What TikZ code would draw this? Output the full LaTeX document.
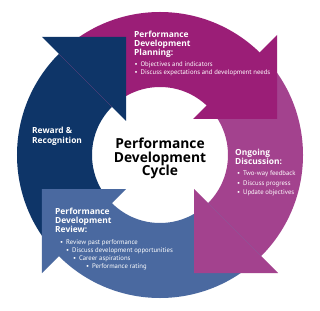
\documentclass[tikz,border=0pt]{standalone}
\usepackage{fontspec}
\setmainfont{PT Sans}
\newfontfamily\hfont{Open Sans}
\definecolor{navyc}{HTML}{0E3568}
\definecolor{magc}{HTML}{9B1E77}
\definecolor{pinkc}{HTML}{A3428E}
\definecolor{bluec}{HTML}{4A69A0}
\tikzset{
  hdr/.style={text=white, inner sep=0pt, anchor=base west, font=\hfont\bfseries\fontsize{8.4}{9}\selectfont},
  bul/.style={text=white, inner sep=0pt, anchor=base west, font=\fontsize{6.7}{7}\selectfont},
  ctr/.style={text=black, inner sep=0pt, anchor=base, font=\hfont\bfseries\fontsize{13.8}{14}\selectfont}
}
\newcommand{\ringpart}[3]{%
  \fill[#1] (#2:68pt) arc[start angle=#2,end angle=#3,radius=68pt] -- (#3:143pt) arc[start angle=#3,end angle=#2,radius=143pt] -- cycle;}
\begin{document}
\begin{tikzpicture}[x=1pt,y=1pt]
\useasboundingbox (-160,-155) rectangle (160,155);
\fill[white] (-160,-155) rectangle (160,155);
% bodies
\ringpart{navyc}{225}{135}
\ringpart{magc}{135}{45}
\ringpart{pinkc}{45}{-45}
\ringpart{bluec}{-45}{-135}
% heads
\fill[navyc] (-34,118) -- (-118,118) -- (-34,34) -- cycle;
\fill[magc] (117,36) -- (117,120) -- (33,36) -- cycle;
\fill[pinkc] (34,-118) -- (118,-118) -- (34,-34) -- cycle;
\fill[bluec] (-118,-34) -- (-118,-118) -- (-34,-34) -- cycle;
% center
\node[ctr] (c1) at (0,6) {Performance};
\node[ctr] (c2) at (0,-7) {Development};
\node[ctr] (c3) at (0,-20) {Cycle};
% planning
\node[hdr] (pl1) at (-26,117) {Performance};
\node[hdr] (pl2) at (-26,108) {Development};
\node[hdr] (pl3) at (-26,99) {Planning:};
\node[bul] (pb1) at (-25.5,88.5) {\textbullet\ \,Objectives and indicators};
\node[bul] (pb2) at (-25.5,80) {\textbullet\ \,Discuss expectations and development needs};
% ongoing
\node[hdr] (og1) at (75,-0.5) {Ongoing};
\node[hdr] (og2) at (75,-9.5) {Discussion:};
\node[bul] (ob1) at (77,-20.5) {\textbullet\ \,Two-way feedback};
\node[bul] (ob2) at (77,-30) {\textbullet\ \,Discuss progress};
\node[bul] (ob3) at (77,-39.5) {\textbullet\ \,Update objectives};
% reward
\node[hdr] (rw1) at (-128,21) {Reward \&};
\node[hdr] (rw2) at (-128,12) {Recognition};
% review
\node[hdr] (rv1) at (-105,-59) {Performance};
\node[hdr] (rv2) at (-105,-68) {Development};
\node[hdr] (rv3) at (-105,-77) {Review:};
\node[bul] (rb1) at (-100,-89) {\textbullet\ \,Review past performance};
\node[bul] (rb2) at (-94,-97.5) {\textbullet\ \,Discuss development opportunities};
\node[bul] (rb3) at (-87,-105.5) {\textbullet\ \,Career aspirations};
\node[bul] (rb4) at (-74,-113.5) {\textbullet\ \,Performance rating};
\end{tikzpicture}
\end{document}
